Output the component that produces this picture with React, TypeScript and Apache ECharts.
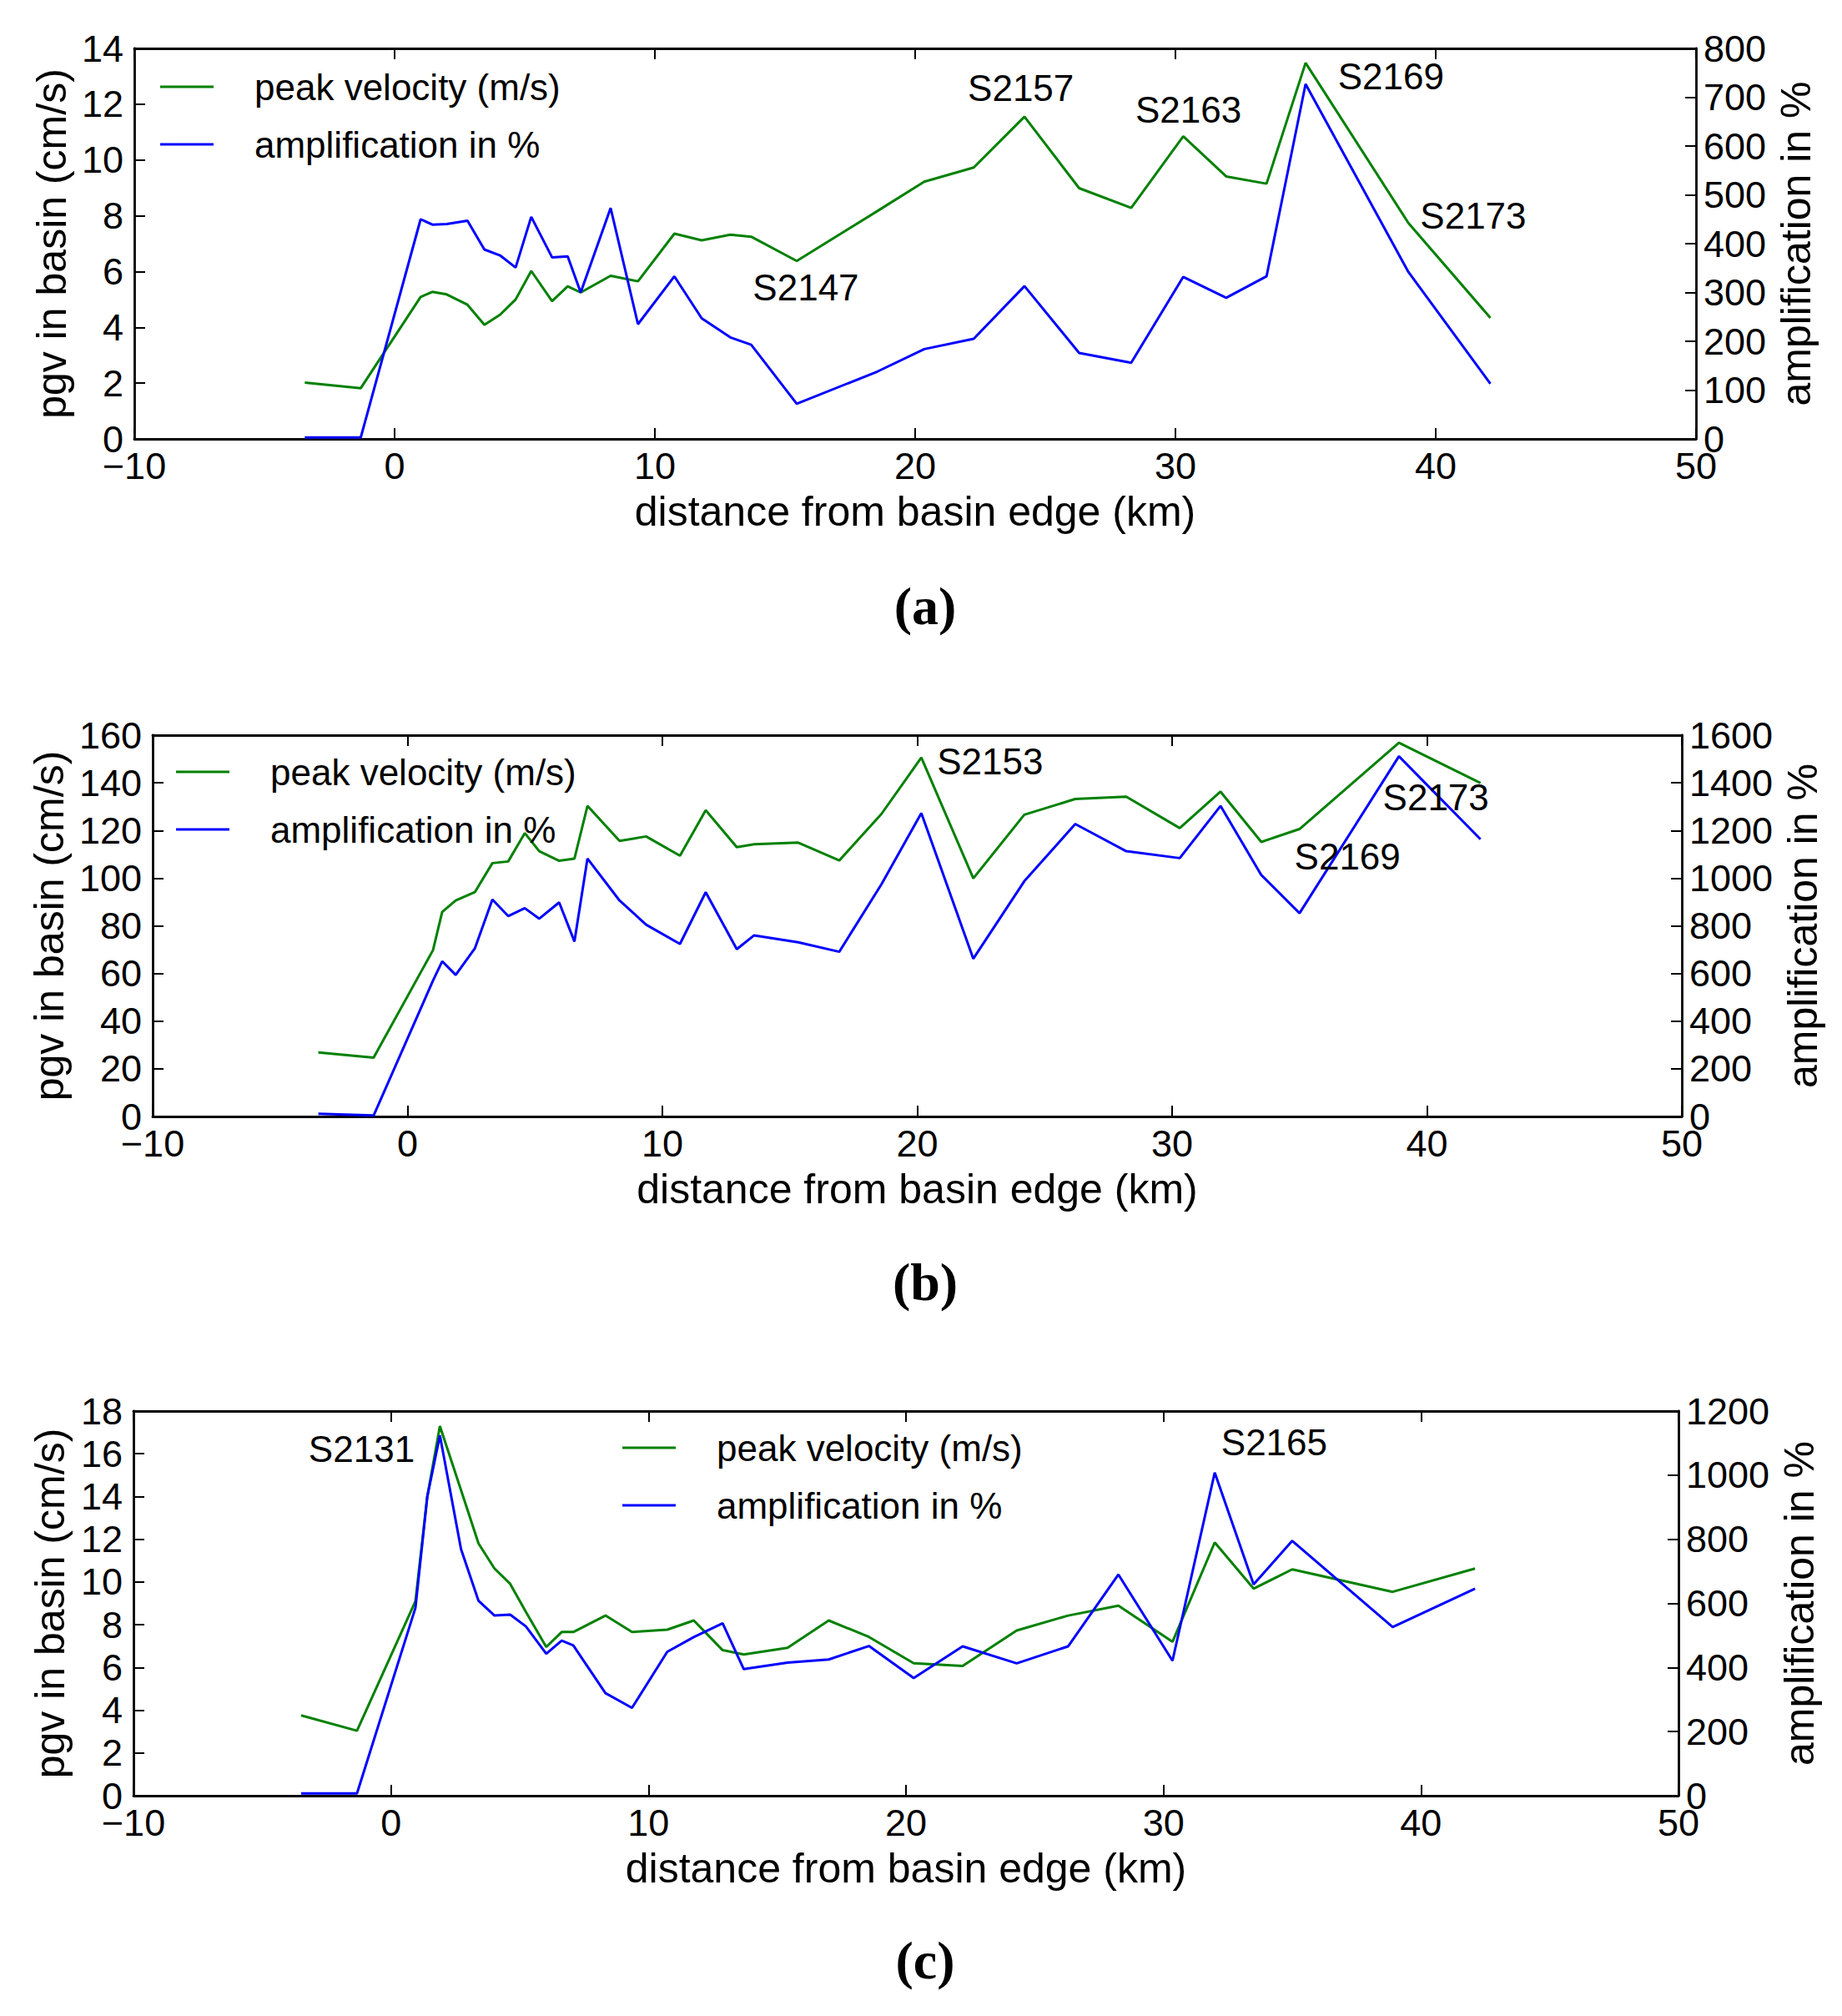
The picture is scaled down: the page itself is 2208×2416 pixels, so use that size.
import React, { useEffect, useRef } from "react";
import * as echarts from "echarts";

// ---------- data ----------
const seriesNames = ["peak velocity (m/s)", "amplification in %"];
const panelLetters = ["(a)", "(b)", "(c)"];
const xTicksRange = [-10, 50];

// panel (a)
const distA = [-3.45, -1.3, 1.0, 1.45, 2.0, 2.8, 3.45, 4.05, 4.65, 5.25, 6.05, 6.65, 7.15, 8.3, 9.35, 10.75, 11.8, 12.9, 13.7, 15.45, 18.55, 20.35, 22.25, 24.2, 26.3, 28.3, 30.3, 31.95, 33.5, 35.0, 38.95, 42.1];
const pgvA = [2.02, 1.82, 5.09, 5.27, 5.18, 4.81, 4.09, 4.45, 5.0, 6.02, 4.94, 5.47, 5.25, 5.85, 5.65, 7.36, 7.12, 7.32, 7.25, 6.38, 8.17, 9.22, 9.73, 11.55, 8.99, 8.28, 10.85, 9.41, 9.15, 13.48, 7.74, 4.34];
const ampA = [3, 3, 450, 439, 440, 447, 388, 376, 351, 455, 372, 374, 300, 473, 235, 333, 247, 208, 193, 72, 138, 184, 205, 313, 176, 156, 332, 289, 333, 727, 342, 113];
const labelsA = [
  { name: "S2147", x: 15.8, y: 5.44 },
  { name: "S2157", x: 24.06, y: 12.59 },
  { name: "S2163", x: 30.5, y: 11.79 },
  { name: "S2169", x: 38.28, y: 12.99 },
  { name: "S2173", x: 41.44, y: 8.01 },
];

// panel (b)
const distB = [-3.5, -1.33, 1.0, 1.36, 1.89, 2.64, 3.33, 3.95, 4.6, 5.17, 5.95, 6.55, 7.06, 8.32, 9.36, 10.69, 11.7, 12.92, 13.6, 15.33, 16.94, 18.6, 20.16, 22.2, 24.2, 26.2, 28.2, 30.3, 31.9, 33.5, 35.0, 38.9, 42.1];
const pgvB = [26.9, 24.7, 69.8, 85.8, 90.6, 94.1, 106.3, 107, 118.9, 111.3, 107.3, 108.2, 130.3, 115.6, 117.5, 109.4, 128.5, 113, 114.2, 114.9, 107.4, 127, 150.6, 99.9, 126.6, 133.2, 134.2, 121, 136.3, 115.2, 120.6, 156.8, 139.9];
const ampB = [11, 4, 570, 651, 594, 705, 910, 841, 874, 830, 898, 734, 1082, 906, 805, 724, 941, 702, 760, 731, 691, 975, 1273, 662, 987, 1227, 1113, 1084, 1303, 1013, 853, 1511, 1163];
const labelsB = [
  { name: "S2153", x: 22.86, y: 148.8 },
  { name: "S2169", x: 36.88, y: 109.2 },
  { name: "S2173", x: 40.35, y: 133.8 },
];

// panel (c)
const distC = [-3.49, -1.32, 0.95, 1.41, 1.9, 2.72, 3.4, 4.02, 4.63, 5.24, 6.03, 6.63, 7.08, 8.33, 9.36, 10.73, 11.76, 12.88, 13.7, 15.4, 17.0, 18.56, 20.3, 22.2, 24.3, 26.3, 28.25, 30.35, 31.99, 33.5, 35.0, 38.9, 42.1];
const pgvC = [3.76, 3.04, 9.1, 14.0, 17.3, 14.3, 11.8, 10.63, 9.91, 8.6, 6.96, 7.66, 7.66, 8.43, 7.66, 7.77, 8.2, 6.81, 6.61, 6.92, 8.2, 7.43, 6.2, 6.07, 7.73, 8.43, 8.89, 7.2, 11.85, 9.69, 10.59, 9.54, 10.63];
const ampC = [7, 7, 586, 933, 1124, 769, 608, 562, 565, 528, 443, 484, 469, 320, 274, 449, 495, 538, 395, 415, 425, 467, 367, 466, 413, 466, 690, 421, 1008, 659, 795, 526, 646];
const labelsC = [
  { name: "S2131", x: -1.14, y: 16.21 },
  { name: "S2165", x: 34.3, y: 16.52 },
];

const leftAxes = [
  { max: 14, interval: 2 },
  { max: 160, interval: 20 },
  { max: 18, interval: 2 },
];
const rightAxes = [
  { max: 800, interval: 100 },
  { max: 1600, interval: 200 },
  { max: 1200, interval: 200 },
];

const panels = [
  { dist: distA, pgv: pgvA, amp: ampA, labels: labelsA },
  { dist: distB, pgv: pgvB, amp: ampB, labels: labelsB },
  { dist: distC, pgv: pgvC, amp: ampC, labels: labelsC },
];

// ---------- layout (pixels) ----------
const grids = [
  { left: 161, right: 175, top: 58, height: 468 },
  { left: 183, right: 192, top: 881, height: 457 },
  { left: 160, right: 196, top: 1691, height: 461 },
];
const legendPos = [
  { left: 192, top: 82 },
  { left: 211, top: 903 },
  { left: 746, top: 1713 },
];
const leftNameGap = [72, 98, 75];
const rightNameGap = [88, 110, 104];
const letterY = [726, 1536, 2349];

const FONT = "'Liberation Sans', Arial, Helvetica, sans-serif";
const GREEN = "#008000";
const BLUE = "#0000ff";

function buildOption() {
  const xAxis: any[] = [];
  const yAxis: any[] = [];
  const series: any[] = [];
  const legend: any[] = [];
  const graphic: any[] = [];

  const axisLine = { show: true, onZero: false, lineStyle: { color: "#000", width: 2.8 } };
  const axisTick = { show: true, inside: true, length: 13, lineStyle: { color: "#000", width: 2 } };
  const plain = (v: number) => String(v);

  panels.forEach((p, i) => {
    xAxis.push({
      gridIndex: i,
      type: "value",
      position: "bottom",
      min: xTicksRange[0],
      max: xTicksRange[1],
      interval: 10,
      axisLine,
      axisTick,
      splitLine: { show: false },
      axisLabel: {
        color: "#000",
        fontSize: 45,
        fontFamily: FONT,
        margin: 10,
        formatter: (v: number) => (v < 0 ? "\u2212" + Math.abs(v) : String(v)),
      },
      name: "distance from basin edge (km)",
      nameLocation: "middle",
      nameGap: 62,
      nameTextStyle: { color: "#000", fontSize: 50, fontFamily: FONT },
    });
    xAxis.push({
      gridIndex: i,
      type: "value",
      position: "top",
      min: xTicksRange[0],
      max: xTicksRange[1],
      interval: 10,
      axisLine,
      axisTick,
      splitLine: { show: false },
      axisLabel: { show: false },
    });
    yAxis.push({
      gridIndex: i,
      type: "value",
      position: "left",
      min: 0,
      max: leftAxes[i].max,
      interval: leftAxes[i].interval,
      axisLine,
      axisTick,
      splitLine: { show: false },
      axisLabel: { color: "#000", fontSize: 45, fontFamily: FONT, margin: 13, formatter: plain },
      name: "pgv in basin (cm/s)",
      nameLocation: "middle",
      nameRotate: 90,
      nameGap: leftNameGap[i],
      nameTextStyle: { color: "#000", fontSize: 50, fontFamily: FONT },
    });
    yAxis.push({
      gridIndex: i,
      type: "value",
      position: "right",
      min: 0,
      max: rightAxes[i].max,
      interval: rightAxes[i].interval,
      axisLine,
      axisTick,
      splitLine: { show: false },
      axisLabel: { color: "#000", fontSize: 45, fontFamily: FONT, margin: 9, formatter: plain },
      name: "amplification in %",
      nameLocation: "middle",
      nameRotate: 90,
      nameGap: rightNameGap[i],
      nameTextStyle: { color: "#000", fontSize: 50, fontFamily: FONT },
    });

    series.push({
      name: seriesNames[0],
      type: "line",
      xAxisIndex: 2 * i,
      yAxisIndex: 2 * i,
      data: p.dist.map((d, k) => [d, p.pgv[k]]),
      showSymbol: false,
      symbol: "none",
      lineStyle: { color: GREEN, width: 3 },
      itemStyle: { color: GREEN },
      z: 2,
    });
    series.push({
      name: seriesNames[1],
      type: "line",
      xAxisIndex: 2 * i,
      yAxisIndex: 2 * i + 1,
      data: p.dist.map((d, k) => [d, p.amp[k]]),
      showSymbol: false,
      symbol: "none",
      lineStyle: { color: BLUE, width: 3 },
      itemStyle: { color: BLUE },
      z: 3,
    });
    series.push({
      name: "stations" + i,
      type: "scatter",
      xAxisIndex: 2 * i,
      yAxisIndex: 2 * i,
      symbolSize: 0,
      silent: true,
      itemStyle: { opacity: 1 },
      data: p.labels.map((l) => ({ name: l.name, value: [l.x, l.y] })),
      label: {
        show: true,
        position: "inside",
        formatter: "{b}",
        color: "#000",
        opacity: 1,
        fontSize: 44,
        fontFamily: FONT,
      },
      z: 4,
    });

    legend.push({
      data: seriesNames,
      orient: "vertical",
      left: legendPos[i].left,
      top: legendPos[i].top,
      padding: 0,
      itemWidth: 64,
      itemHeight: 3,
      itemGap: 25,
      icon: "rect",
      selectedMode: false,
      textStyle: {
        color: "#000",
        fontSize: 44,
        lineHeight: 44,
        fontFamily: FONT,
        padding: [0, 0, 0, 44],
      },
    });

    graphic.push({
      type: "text",
      x: 1109,
      y: letterY[i],
      style: {
        text: panelLetters[i],
        fontSize: 64,
        fontWeight: "bold",
        fontFamily: "'Liberation Serif', 'DejaVu Serif', serif",
        fill: "#000",
        align: "center",
        verticalAlign: "middle",
      },
    });
  });

  return {
    animation: false,
    backgroundColor: "#fff",
    textStyle: { fontFamily: FONT },
    grid: grids.map((g) => ({ ...g, containLabel: false })),
    xAxis,
    yAxis,
    legend,
    series,
    graphic,
  };
}

export default function App() {
  const ref = useRef<HTMLDivElement>(null);
  useEffect(() => {
    document.body.style.margin = "0";
    if (!ref.current) return;
    const chart = echarts.init(ref.current, null, { renderer: "svg" });
    chart.setOption(buildOption());
    return () => chart.dispose();
  }, []);
  return <div ref={ref} style={{ width: 2208, height: 2416, background: "#fff" }} />;
}
